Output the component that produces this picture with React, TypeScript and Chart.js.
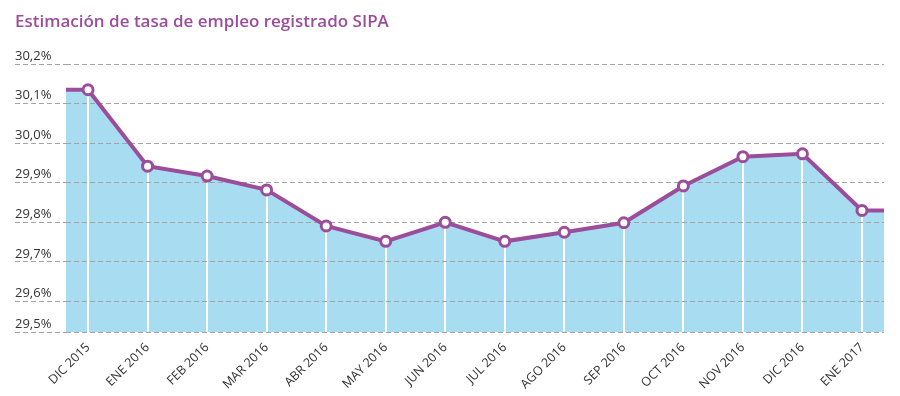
import React, { useEffect, useRef } from "react";
import { Chart, registerables } from "chart.js";

Chart.register(...registerables);

const TITLE = "Estimación de tasa de empleo registrado SIPA";

const categories = [
  "DIC 2015", "ENE 2016", "FEB 2016", "MAR 2016", "ABR 2016", "MAY 2016", "JUN 2016",
  "JUL 2016", "AGO 2016", "SEP 2016", "OCT 2016", "NOV 2016", "DIC 2016", "ENE 2017",
];

const employmentRate = [
  30.135, 29.942, 29.917, 29.882, 29.791, 29.752, 29.8,
  29.752, 29.775, 29.799, 29.892, 29.966, 29.973, 29.83,
];

// Y ticks; the lowest one is the (broken) axis floor, labelled 29,5%
const yTickValues = [29.523, 29.6, 29.7, 29.8, 29.9, 30.0, 30.1, 30.2];
const yTickLabels = ["29,5%", "29,6%", "29,7%", "29,8%", "29,9%", "30,0%", "30,1%", "30,2%"];

const X_PAD = 0.37;
const PURPLE = "#9b4d9c";
const FILL = "#a8dcf1";

export default function App() {
  const ref = useRef<HTMLCanvasElement | null>(null);

  useEffect(() => {
    if (!ref.current) return;
    const last = employmentRate.length - 1;
    const xMin = -X_PAD;
    const xMax = last + X_PAD;
    const points = [
      { x: xMin, y: employmentRate[0] },
      ...employmentRate.map((v, i) => ({ x: i, y: v })),
      { x: xMax, y: employmentRate[last] },
    ];
    const nPts = points.length;

    const chart = new Chart(ref.current, {
      type: "line",
      data: {
        datasets: [
          {
            data: points,
            borderColor: PURPLE,
            borderWidth: 4,
            backgroundColor: FILL,
            fill: "start",
            tension: 0,
            pointRadius: (ctx: any) => (ctx.dataIndex === 0 || ctx.dataIndex === nPts - 1 ? 0 : 5),
            pointHoverRadius: 0,
            pointBackgroundColor: "#ffffff",
            pointBorderColor: PURPLE,
            pointBorderWidth: 3,
          },
        ],
      },
      options: {
        animation: false,
        responsive: false,
        layout: { padding: { left: 15, right: 16, top: 0, bottom: 0 } },
        plugins: {
          legend: { display: false },
          tooltip: { enabled: false },
          filler: { drawTime: "beforeDraw" } as any,
          title: {
            display: true,
            text: TITLE,
            align: "start",
            color: PURPLE,
            font: { family: "'Open Sans', sans-serif", size: 17, weight: "600" as any, lineHeight: 1.2 },
            padding: { top: 12, bottom: 31.6 },
          },
        },
        scales: {
          x: {
            type: "linear",
            min: xMin,
            max: xMax,
            afterBuildTicks: (scale: any) => {
              scale.ticks = categories.map((_, i) => ({ value: i }));
            },
            afterFit: (scale: any) => {
              scale.height = 64;
            },
            grid: {
              color: "#ffffff",
              lineWidth: 2,
              drawTicks: false,
            },
            border: { display: false },
            ticks: {
              autoSkip: false,
              minRotation: 45,
              maxRotation: 45,
              padding: 8,
              color: "#333333",
              font: { family: "'Open Sans', sans-serif", size: 12.5 },
              callback: (v: any) => categories[Math.round(Number(v))] ?? "",
            },
          },
          y: {
            type: "linear",
            min: yTickValues[0],
            max: yTickValues[yTickValues.length - 1],
            afterBuildTicks: (scale: any) => {
              scale.ticks = yTickValues.map((v) => ({ value: v }));
            },
            afterFit: (scale: any) => {
              scale.width = 51;
            },
            grid: {
              color: "#a3a3a3",
              lineWidth: 1,
              tickBorderDash: [5, 3],
              tickLength: 51,
              drawTicks: true,
            } as any,
            border: { display: false, dash: [5, 3] },
            ticks: {
              crossAlign: "far",
              padding: 0,
              labelOffset: -8,
              color: "#333333",
              font: { family: "'Open Sans', sans-serif", size: 13 },
              callback: (v: any) => {
                const idx = yTickValues.findIndex((t) => Math.abs(t - Number(v)) < 1e-6);
                return idx >= 0 ? yTickLabels[idx] : "";
              },
            },
          },
        },
      },
    });
    return () => chart.destroy();
  }, []);

  return (
    <div style={{ position: "absolute", left: 0, top: 0, width: 900, height: 396, background: "#fff" }}>
      <canvas ref={ref} width={900} height={396} style={{ display: "block" }} />
    </div>
  );
}
